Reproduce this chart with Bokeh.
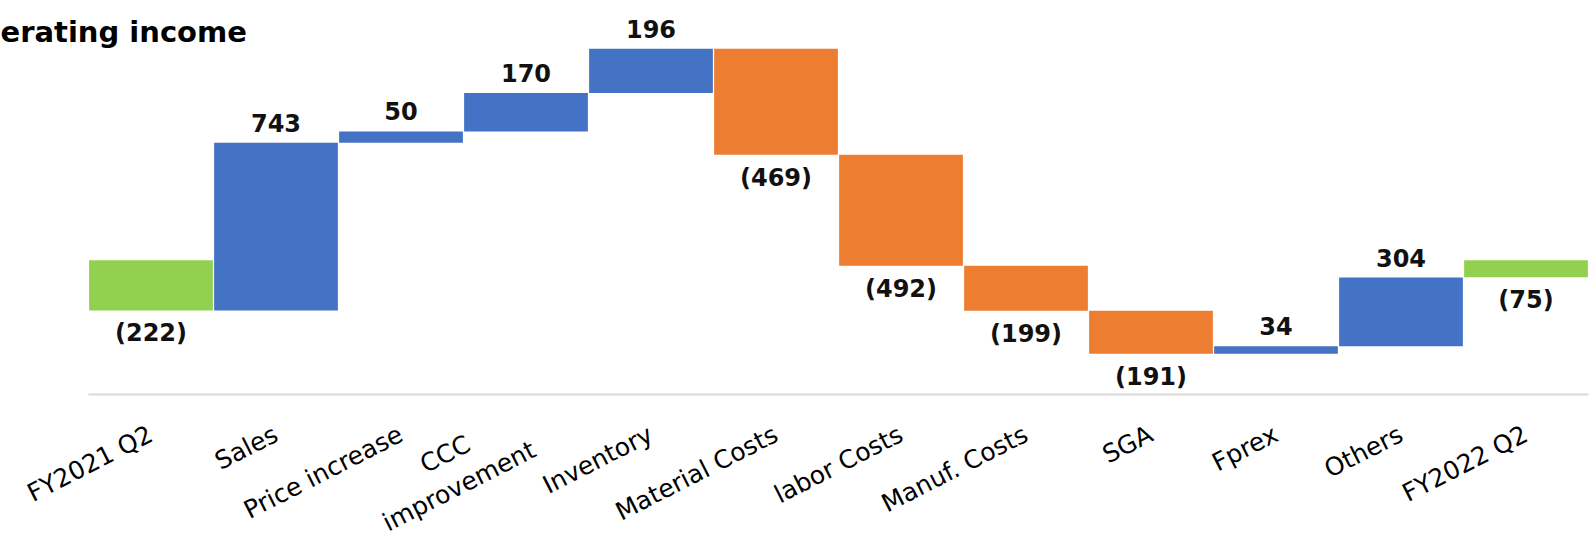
import math
from bokeh.plotting import figure
from bokeh.models import ColumnDataSource, Range1d, Label, LabelSet, FixedTicker
from bokeh.core.properties import value
from bokeh.embed import file_html
from bokeh.resources import INLINE

NBSP = "\u00a0"
categories = ["FY2021 Q2", "Sales", "Price increase", "CCC" + NBSP * 7 + "\nimprovement",
              "Inventory", "Material Costs", "labor Costs", "Manuf. Costs", "SGA", "Fprex",
              "Others", "FY2022 Q2"]
values = [-222, 743, 50, 170, 196, -469, -492, -199, -191, 34, 304, -75]
is_total = [True, False, False, False, False, False, False, False, False, False, False, True]
title_text = "erating income"

GREEN = "#92D050"
BLUE = "#4472C4"
ORANGE = "#ED7D31"

xs = list(range(len(categories)))
bottoms, tops, colors = [], [], []
pos = dict(x=[], y=[], text=[])
neg = dict(x=[], y=[], text=[])
running = 0
for i, v, tot in zip(xs, values, is_total):
    if tot:
        start, end = 0, v
        colors.append(GREEN)
    else:
        start, end = running, running + v
        colors.append(BLUE if v >= 0 else ORANGE)
    running = end
    lo, hi = min(start, end), max(start, end)
    bottoms.append(lo)
    tops.append(hi)
    if v >= 0:
        pos["x"].append(i); pos["y"].append(hi); pos["text"].append(f"{v}")
    else:
        neg["x"].append(i); neg["y"].append(lo); neg["text"].append(f"({-v})")

src = ColumnDataSource(dict(x=xs, bottom=bottoms, top=tops, color=colors))

AXIS_Y = -594
p = figure(x_range=Range1d(-1.204, 11.508), y_range=Range1d(-1316, 1151),
           width=1589, height=557, output_backend="svg", toolbar_location=None,
           min_border_left=0, min_border_right=0, min_border_top=0, min_border_bottom=0)
p.outline_line_color = None

p.vbar(x="x", bottom="bottom", top="top", width=0.99, color="color",
       line_color=None, source=src)

common = dict(text_align="center", text_font=value("DejaVu Sans"),
              text_font_style=value("bold"), text_font_size=value("24px"),
              text_color=value("#111111"))
p.add_layout(LabelSet(x="x", y="y", text="text", source=ColumnDataSource(pos),
                      y_offset=11, text_baseline="bottom", **common))
p.add_layout(LabelSet(x="x", y="y", text="text", source=ColumnDataSource(neg),
                      y_offset=-9, text_baseline="top", **common))

ANG = math.radians(27)
p.yaxis.visible = False
p.grid.visible = False
ax = p.xaxis[0]
ax.fixed_location = AXIS_Y
ax.ticker = FixedTicker(ticks=xs)
ax.major_label_overrides = {i: c for i, c in zip(xs, categories)}
ax.bounds = (-0.5, len(categories) - 0.5)
ax.axis_line_color = "#D9D9D9"
ax.axis_line_width = 2
ax.major_tick_line_color = None
ax.minor_tick_line_color = None
ax.major_label_orientation = ANG
ax.major_label_standoff = 32
ax.major_label_text_font = "DejaVu Sans"
ax.major_label_text_font_size = "25px"
ax.major_label_text_color = "black"

p.add_layout(Label(x=0, y=557 - 31, x_units="screen", y_units="screen",
                   text=title_text, text_font="DejaVu Sans", text_font_style="bold",
                   text_font_size="29px", text_color="black", text_baseline="alphabetic"))

open("out.html", "w").write(file_html(p, INLINE))
